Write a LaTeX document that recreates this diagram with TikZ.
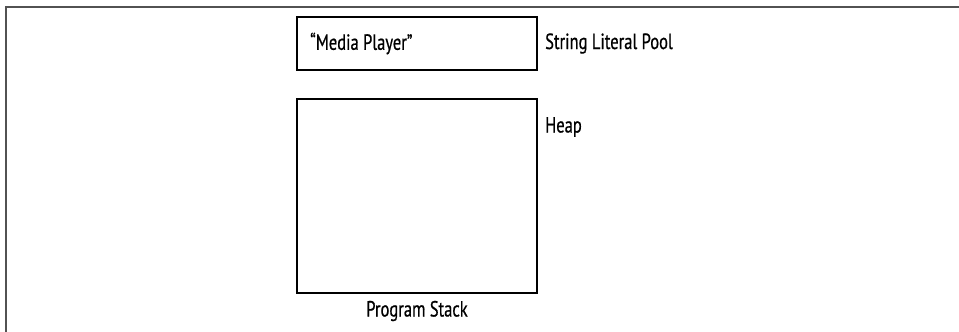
\documentclass[tikz,border=0pt]{standalone}
\usepackage{fontspec}
\setmainfont[FakeStretch=0.75,FakeBold=0.6]{PT Sans}
\begin{document}
\begin{tikzpicture}[x=1pt,y=-1pt,
  memarea/.style={draw=black,line width=2pt},
  lbl/.style={font=\fontsize{22}{26}\selectfont,inner sep=0pt},
  frameline/.style={draw=black!68,line width=1.6pt}]
\useasboundingbox (0,0) rectangle (959,332);
\draw[frameline] (6,332) -- (6,7) -- (959,7);
\draw[memarea] (297,17) rectangle (537,70);
\draw[memarea] (297,99) rectangle (537,293);
\node[lbl,anchor=west] (lit) at (310,43.5) {“Media Player”};
\node[lbl,anchor=west] (pool) at (545,43.5) {String Literal Pool};
\node[lbl,anchor=west] (heap) at (545,127) {Heap};
\node[lbl] (stack) at (417,311) {Program Stack};
\end{tikzpicture}
\end{document}
